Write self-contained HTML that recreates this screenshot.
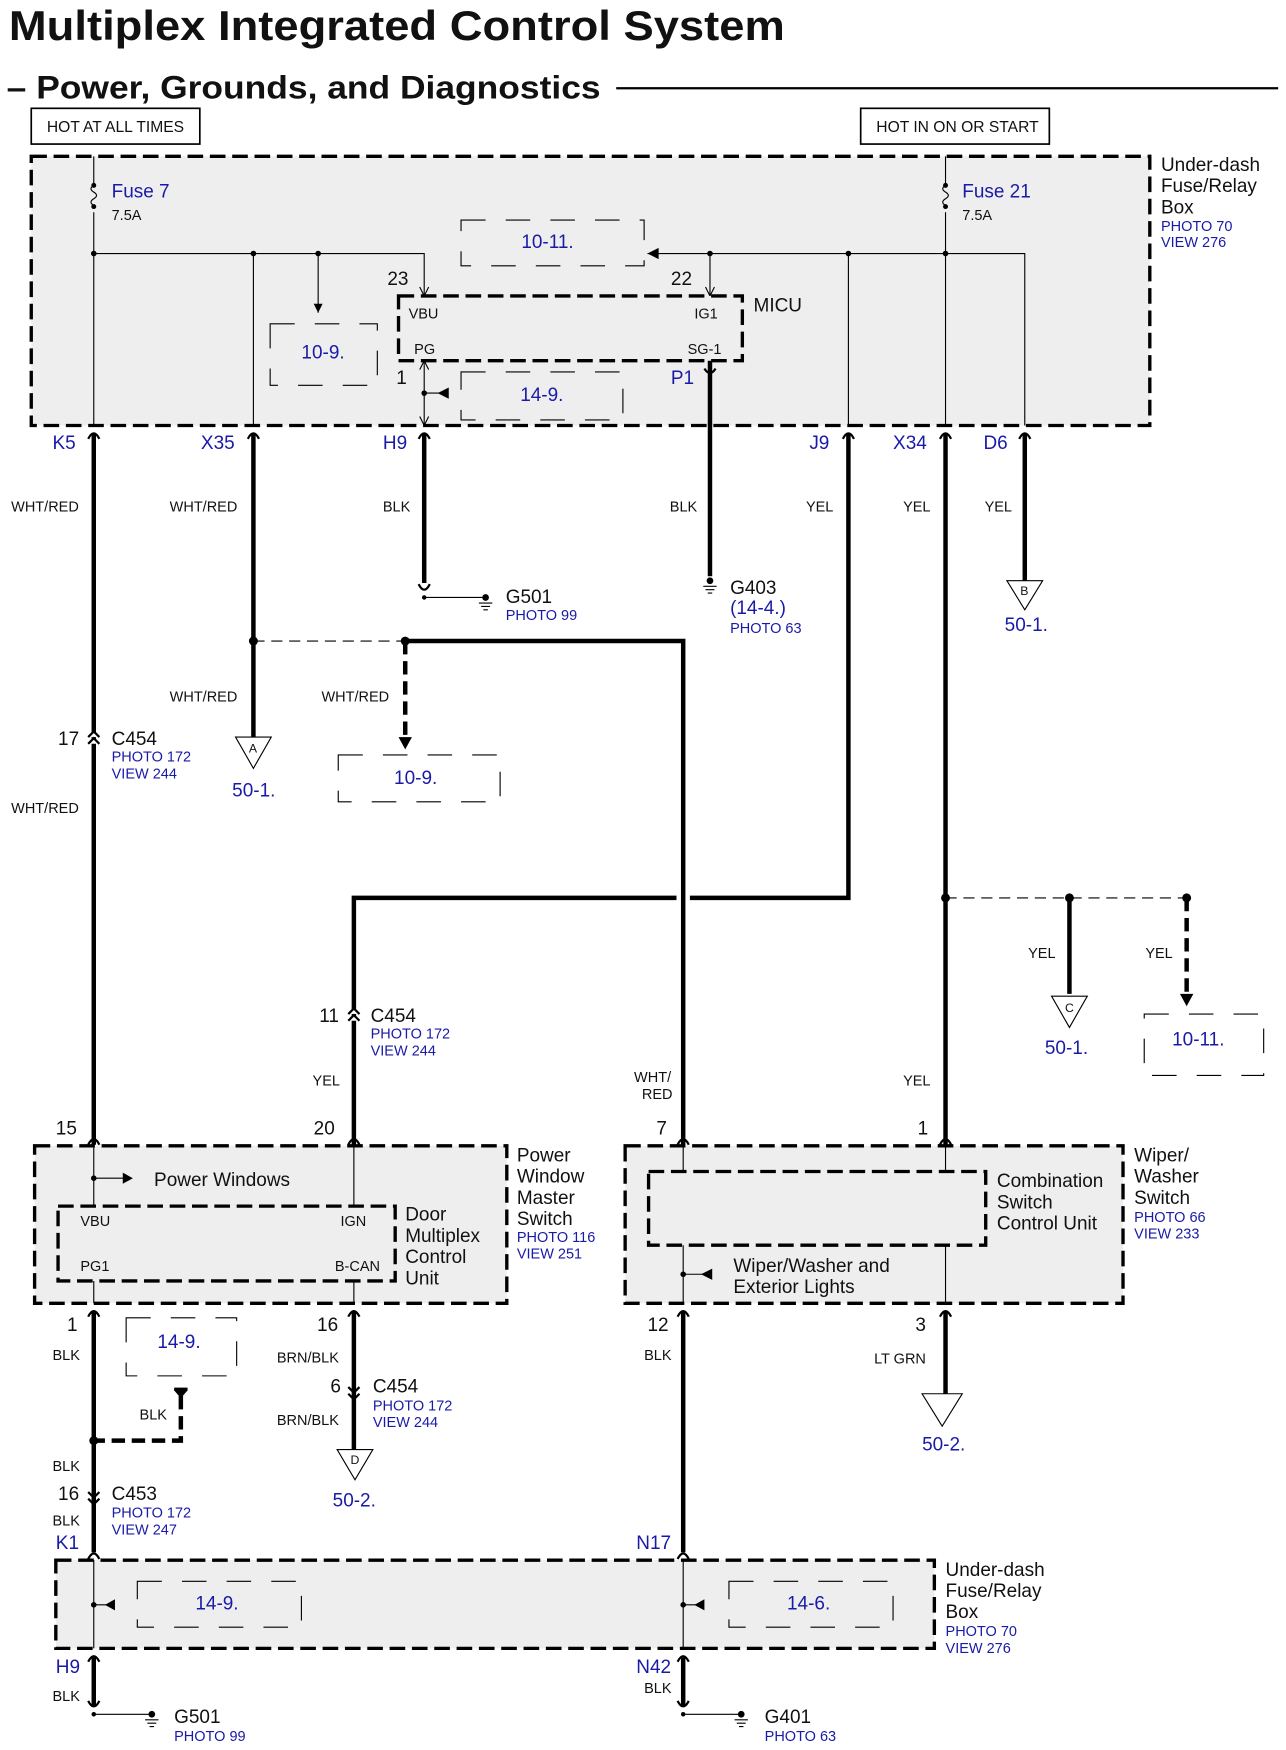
<!DOCTYPE html>
<html><head><meta charset="utf-8"><style>
html,body{margin:0;padding:0;background:#fff}
svg{display:block}
text{font-family:"Liberation Sans",Arial,sans-serif;fill:#111}
.b{fill:#1a1aa8}
.s{font-size:13px}
.m{font-size:17px}
.l{font-size:17px}
.w{stroke:#000;stroke-width:4;fill:none}
.t{stroke:#000;stroke-width:1;fill:none}
.box{stroke:#000;stroke-width:3;stroke-dasharray:14 6;fill:#eee}
.ref{stroke:#000;stroke-width:1;stroke-dasharray:22 18;fill:none}
.dw{stroke:#000;stroke-width:4;stroke-dasharray:12 6;fill:none}
.dt{stroke:#000;stroke-width:1;stroke-dasharray:10 6;fill:none}
</style></head><body>
<svg width="1286" height="1750" viewBox="0 0 1152 1567" preserveAspectRatio="none" xmlns="http://www.w3.org/2000/svg">
<defs>
<g id="cu"><path d="M-5 7 Q0 -3 5 7" stroke="#000" stroke-width="2" fill="none"/></g>
<g id="cd"><path d="M-5 -5 Q0 5 5 -5" stroke="#000" stroke-width="2" fill="none"/></g>
<g id="gnd"><circle cx="0" cy="0" r="3" fill="#000"/><path d="M-6 5 H6 M-4 8 H4 M-2 11 H2" stroke="#000" stroke-width="1"/></g>
</defs>
<text x="8" y="36" textLength="695" lengthAdjust="spacingAndGlyphs" style="font-size:37px;font-weight:bold">Multiplex Integrated Control System</text>
<text x="6" y="88" textLength="532" lengthAdjust="spacingAndGlyphs" style="font-size:29px;font-weight:bold">– Power, Grounds, and Diagnostics</text>
<line x1="552" y1="79" x2="1145" y2="79" stroke="#000" stroke-width="2"/>
<rect x="28" y="97" width="151" height="32" fill="none" stroke="#000" stroke-width="1.5"/>
<text x="42" y="118" class="s" style="font-size:14px">HOT AT ALL TIMES</text>
<rect x="771" y="97" width="169" height="32" fill="none" stroke="#000" stroke-width="1.5"/>
<text x="785" y="118" class="s" style="font-size:14px">HOT IN ON OR START</text>

<rect x="28" y="140" width="1002" height="241" class="box"/>
<text x="1040" y="153" class="l">Under-dash</text><text x="1040" y="172" class="l">Fuse/Relay</text><text x="1040" y="191" class="l">Box</text>
<text x="1040" y="207" class="b s">PHOTO 70</text><text x="1040" y="221" class="b s">VIEW 276</text>
<path d="M84 140 V164 M84 190 V381" class="t"/>
<path d="M84 166 q-5 3 0 6 q5 3 0 6 q-5 3 0 6" class="t"/>
<circle cx="84" cy="166" r="2.2"/><circle cx="84" cy="185" r="2.2"/>
<text x="100" y="177" class="b m">Fuse 7</text><text x="100" y="197" class="s">7.5A</text>
<path d="M847 140 V164 M847 190 V381" class="t"/>
<path d="M847 166 q-5 3 0 6 q5 3 0 6 q-5 3 0 6" class="t"/>
<circle cx="847" cy="166" r="2.2"/><circle cx="847" cy="185" r="2.2"/>
<text x="862" y="177" class="b m">Fuse 21</text><text x="862" y="197" class="s">7.5A</text>
<path d="M84 227 H380 V265 M227 227 V381 M285 227 V280" class="t"/>
<circle cx="84" cy="227" r="2.5"/><circle cx="227" cy="227" r="2.5"/><circle cx="285" cy="227" r="2.5"/>
<path d="M281 272 L289 272 L285 280Z"/>
<path d="M376 257 L380 265 L384 257" class="t"/>
<rect x="242" y="290" width="96" height="55" class="ref"/>
<text x="270" y="321" class="b m">10-9.</text>
<path d="M580 227 H918 V381 M636 227 V265 M760 227 V381" class="t"/>
<path d="M580 227 L590 222 L590 232Z"/>
<circle cx="636" cy="227" r="2.5"/><circle cx="760" cy="227" r="2.5"/><circle cx="847" cy="227" r="2.5"/>
<path d="M632 257 L636 265 L640 257" class="t"/>
<rect x="413" y="197" width="164" height="41" class="ref"/>
<text x="467" y="222" class="b m">10-11.</text>
<rect x="357" y="265" width="308" height="58" class="box"/>
<text x="347" y="255" class="m">23</text><text x="601" y="255" class="m">22</text>
<text x="366" y="285" class="s">VBU</text><text x="622" y="285" class="s">IG1</text>
<text x="371" y="317" class="s">PG</text><text x="616" y="317" class="s">SG-1</text>
<text x="675" y="279" class="l">MICU</text>
<text x="355" y="344" class="m">1</text><text x="601" y="344" class="b m">P1</text>
<path d="M380 323 V381 M380 352 H395" class="t"/><circle cx="380" cy="352" r="2.5"/>
<path d="M392 352 L402 347 L402 357Z"/>
<path d="M376 331 L380 323 L384 331 M376 373 L380 381 L384 373" class="t"/>
<rect x="413" y="333" width="145" height="43" class="ref"/>
<text x="466" y="359" class="b m">14-9.</text>

<text x="47" y="402" class="b m">K5</text><text x="180" y="402" class="b m">X35</text><text x="343" y="402" class="b m">H9</text>
<text x="725" y="402" class="b m">J9</text><text x="800" y="402" class="b m">X34</text><text x="881" y="402" class="b m">D6</text>
<path d="M84 388 V1025 M227 388 V660 M380 388 V522 M636 323 V516 M760 388 V804 H618 M606 804 H317 V1025 M847 388 V1025 M918 388 V520 M363 574 H612 V1025 M958 804 V890" class="w"/>
<use href="#cu" x="84" y="386"/><use href="#cu" x="227" y="386"/><use href="#cu" x="380" y="386"/><use href="#cu" x="760" y="386"/><use href="#cu" x="847" y="386"/><use href="#cu" x="918" y="386"/>
<path d="M631 330 Q636 338 641 330" class="w" style="stroke-width:2"/>
<text x="10" y="458" class="s">WHT/RED</text><text x="152" y="458" class="s">WHT/RED</text><text x="343" y="458" class="s">BLK</text>
<text x="600" y="458" class="s">BLK</text><text x="722" y="458" class="s">YEL</text><text x="809" y="458" class="s">YEL</text><text x="882" y="458" class="s">YEL</text>
<use href="#cd" x="380" y="528"/>
<path d="M380 535 H434" class="t"/><circle cx="380" cy="535" r="2"/><use href="#gnd" x="435" y="535"/>
<text x="453" y="540" class="m">G501</text><text x="453" y="555" class="b s">PHOTO 99</text>
<use href="#gnd" x="636" y="520"/>
<text x="654" y="532" class="m">G403</text><text x="654" y="550" class="b m">(14-4.)</text><text x="654" y="567" class="b s">PHOTO 63</text>
<path d="M902 520 H934 L918 546Z" fill="#fff" stroke="#000" stroke-width="1"/><text x="914" y="533" style="font-size:11px">B</text>
<text x="900" y="565" class="b m">50-1.</text>
<circle cx="227" cy="574" r="4"/><circle cx="363" cy="574" r="4"/>
<path d="M227 574 H363" class="dt"/>
<path d="M363 574 V660" class="dw"/><path d="M357 660 L369 660 L363 671Z"/>
<rect x="303" y="676" width="145" height="42" class="ref"/><text x="353" y="702" class="b m">10-9.</text>
<text x="152" y="628" class="s">WHT/RED</text><text x="288" y="628" class="s">WHT/RED</text>
<path d="M211 660 H243 L227 688Z" fill="#fff" stroke="#000" stroke-width="1"/><text x="223" y="674" style="font-size:11px">A</text>
<text x="208" y="713" class="b m">50-1.</text>
<path d="M79 660 L84 655 L89 660 M79 666 L84 661 L89 666" stroke="#000" stroke-width="2" fill="#fff"/>
<text x="52" y="667" class="m">17</text><text x="100" y="667" class="m">C454</text><text x="100" y="682" class="b s">PHOTO 172</text><text x="100" y="697" class="b s">VIEW 244</text>
<text x="10" y="728" class="s">WHT/RED</text>
<circle cx="847" cy="804" r="4"/><circle cx="958" cy="804" r="4"/><circle cx="1063" cy="804" r="4"/>
<path d="M847 804 H1063" class="dt"/>
<path d="M1063 804 V890" class="dw"/><path d="M1057 890 L1069 890 L1063 901Z"/>
<rect x="1025" y="908" width="107" height="55" class="ref"/><text x="1050" y="936" class="b m">10-11.</text>
<text x="921" y="858" class="s">YEL</text><text x="1026" y="858" class="s">YEL</text>
<path d="M942 892 H974 L958 920Z" fill="#fff" stroke="#000" stroke-width="1"/><text x="954" y="906" style="font-size:11px">C</text>
<text x="936" y="944" class="b m">50-1.</text>
<path d="M312 908 L317 903 L322 908 M312 914 L317 909 L322 914" stroke="#000" stroke-width="2" fill="#fff"/>
<text x="286" y="915" class="m">11</text><text x="332" y="915" class="m">C454</text><text x="332" y="930" class="b s">PHOTO 172</text><text x="332" y="945" class="b s">VIEW 244</text>
<text x="280" y="972" class="s">YEL</text><text x="568" y="969" class="s">WHT/</text><text x="575" y="984" class="s">RED</text><text x="809" y="972" class="s">YEL</text>

<text x="50" y="1016" class="m">15</text><text x="281" y="1016" class="m">20</text>
<text x="588" y="1016" class="m">7</text><text x="822" y="1016" class="m">1</text>
<use href="#cu" x="84" y="1018"/><use href="#cu" x="317" y="1018"/><use href="#cu" x="612" y="1018"/><use href="#cu" x="847" y="1018"/>
<rect x="31" y="1026" width="423" height="141" class="box"/>
<rect x="52" y="1080" width="302" height="67" class="box" style="fill:none"/>
<path d="M84 1026 V1080 M317 1026 V1080 M84 1147 V1167 M317 1147 V1167 M84 1055 H112" class="t"/>
<circle cx="84" cy="1055" r="2.5"/><path d="M110 1050 L119 1055 L110 1060Z"/>
<text x="138" y="1062" class="m">Power Windows</text>
<text x="72" y="1098" class="s">VBU</text><text x="305" y="1098" class="s">IGN</text>
<text x="72" y="1138" class="s">PG1</text><text x="300" y="1138" class="s">B-CAN</text>
<text x="363" y="1093" class="l">Door</text><text x="363" y="1112" class="l">Multiplex</text><text x="363" y="1131" class="l">Control</text><text x="363" y="1150" class="l">Unit</text>
<text x="463" y="1040" class="l">Power</text><text x="463" y="1059" class="l">Window</text><text x="463" y="1078" class="l">Master</text><text x="463" y="1097" class="l">Switch</text>
<text x="463" y="1112" class="b s">PHOTO 116</text><text x="463" y="1127" class="b s">VIEW 251</text>

<rect x="560" y="1026" width="446" height="141" class="box"/>
<rect x="581" y="1049" width="302" height="66" class="box" style="fill:none"/>
<path d="M612 1026 V1049 M612 1115 V1167 M847 1026 V1049 M847 1115 V1167 M612 1141 H632" class="t"/>
<circle cx="612" cy="1141" r="2.5"/><path d="M628 1141 L638 1136 L638 1146Z"/>
<text x="893" y="1063" class="l">Combination</text><text x="893" y="1082" class="l">Switch</text><text x="893" y="1101" class="l">Control Unit</text>
<text x="1016" y="1040" class="l">Wiper/</text><text x="1016" y="1059" class="l">Washer</text><text x="1016" y="1078" class="l">Switch</text>
<text x="1016" y="1094" class="b s">PHOTO 66</text><text x="1016" y="1109" class="b s">VIEW 233</text>
<text x="657" y="1139" class="l">Wiper/Washer and</text><text x="657" y="1158" class="l">Exterior Lights</text>

<path d="M84 1174 V1390 M317 1174 V1298 M612 1174 V1390 M847 1174 V1248" class="w"/>
<use href="#cu" x="84" y="1172"/><use href="#cu" x="317" y="1172"/><use href="#cu" x="612" y="1172"/><use href="#cu" x="847" y="1172"/>
<text x="60" y="1192" class="m">1</text><text x="284" y="1192" class="m">16</text><text x="580" y="1192" class="m">12</text><text x="820" y="1192" class="m">3</text>
<text x="47" y="1218" class="s">BLK</text><text x="248" y="1220" class="s">BRN/BLK</text><text x="577" y="1218" class="s">BLK</text><text x="783" y="1221" class="s">LT GRN</text>
<rect x="113" y="1180" width="99" height="52" class="ref"/><text x="141" y="1207" class="b m">14-9.</text>
<path d="M156 1245 H168 L162 1252Z"/><path d="M156 1244 H168" stroke="#000" stroke-width="3"/>
<path d="M162 1250 V1290 H84" class="dw"/><circle cx="84" cy="1290" r="4"/>
<text x="125" y="1271" class="s">BLK</text><text x="47" y="1317" class="s">BLK</text>
<path d="M312 1242 L317 1247 L322 1242 M312 1248 L317 1253 L322 1248" stroke="#000" stroke-width="2" fill="none"/>
<text x="296" y="1247" class="m">6</text><text x="334" y="1247" class="m">C454</text><text x="334" y="1263" class="b s">PHOTO 172</text><text x="334" y="1278" class="b s">VIEW 244</text>
<text x="248" y="1276" class="s">BRN/BLK</text>
<path d="M302 1298 H334 L318 1325Z" fill="#fff" stroke="#000" stroke-width="1"/><text x="314" y="1311" style="font-size:11px">D</text>
<text x="298" y="1349" class="b m">50-2.</text>
<path d="M826 1248 H862 L844 1277Z" fill="#fff" stroke="#000" stroke-width="1"/>
<text x="826" y="1299" class="b m">50-2.</text>
<path d="M79 1336 L84 1341 L89 1336 M79 1342 L84 1347 L89 1342" stroke="#000" stroke-width="2" fill="none"/>
<text x="52" y="1343" class="m">16</text><text x="100" y="1343" class="m">C453</text><text x="100" y="1359" class="b s">PHOTO 172</text><text x="100" y="1374" class="b s">VIEW 247</text>
<text x="47" y="1366" class="s">BLK</text>
<text x="50" y="1387" class="b m">K1</text><text x="570" y="1387" class="b m">N17</text>
<use href="#cu" x="84" y="1389"/><use href="#cu" x="612" y="1389"/>

<rect x="50" y="1397" width="787" height="79" class="box"/>
<path d="M84 1397 V1476 M612 1397 V1476 M84 1437 H96 M612 1437 H624" class="t"/>
<circle cx="84" cy="1437" r="2.5"/><circle cx="612" cy="1437" r="2.5"/>
<path d="M94 1437 L103 1432 L103 1442Z"/><path d="M622 1437 L631 1432 L631 1442Z"/>
<rect x="123" y="1416" width="147" height="41" class="ref"/><text x="175" y="1441" class="b m">14-9.</text>
<rect x="653" y="1416" width="147" height="41" class="ref"/><text x="705" y="1441" class="b m">14-6.</text>
<text x="847" y="1411" class="l">Under-dash</text><text x="847" y="1430" class="l">Fuse/Relay</text><text x="847" y="1449" class="l">Box</text>
<text x="847" y="1465" class="b s">PHOTO 70</text><text x="847" y="1480" class="b s">VIEW 276</text>
<path d="M84 1484 V1528 M612 1484 V1528" class="w"/>
<use href="#cu" x="84" y="1481"/><use href="#cu" x="612" y="1481"/>
<text x="50" y="1498" class="b m">H9</text><text x="570" y="1498" class="b m">N42</text>
<text x="47" y="1523" class="s">BLK</text><text x="577" y="1516" class="s">BLK</text>
<use href="#cd" x="84" y="1528"/><use href="#cd" x="612" y="1528"/>
<path d="M84 1535 H135 M612 1535 H663" class="t"/><circle cx="84" cy="1535" r="2"/><circle cx="612" cy="1535" r="2"/>
<use href="#gnd" x="136" y="1535"/><use href="#gnd" x="664" y="1535"/>
<text x="156" y="1543" class="m">G501</text><text x="156" y="1559" class="b s">PHOTO 99</text>
<text x="685" y="1543" class="m">G401</text><text x="685" y="1559" class="b s">PHOTO 63</text>
</svg>
</body></html>
